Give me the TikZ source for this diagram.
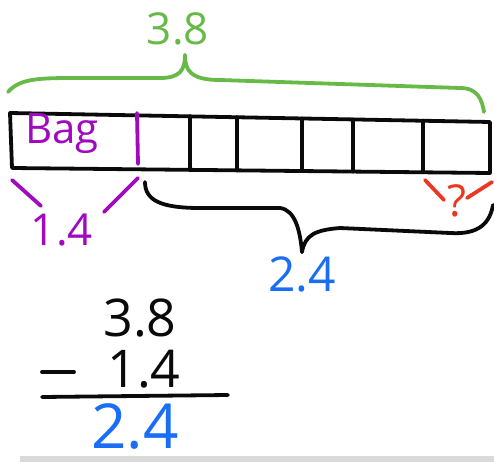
\documentclass[tikz,border=0pt]{standalone}
\usepackage{fontspec}
\setmainfont{Open Sans}
\usetikzlibrary{calc}
\definecolor{grass}{RGB}{104,186,72}
\definecolor{plum}{RGB}{160,10,190}
\definecolor{sky}{RGB}{25,110,245}
\definecolor{brick}{RGB}{235,55,35}
\definecolor{ink}{RGB}{10,10,10}
\tikzset{
  pen/.style={draw=#1,line width=3.8pt,line cap=round,line join=round},
  pen/.default=ink,
  hand/.style 2 args={text=#1,inner sep=0pt,font=\fontsize{#2}{#2}\selectfont},
}

\begin{document}
\begin{tikzpicture}[x=1pt,y=-1pt]
  \useasboundingbox (0,0) rectangle (494,462);
  % tape
  \coordinate (tl) at (10,113);
  \coordinate (tr) at (490,122);
  \coordinate (br) at (490,173);
  \coordinate (bl) at (12,168);
  \draw[pen] (tl) -- (tr) -- (br) -- (bl) -- cycle;
  \foreach \x in {190,237,302,353,423}
    \draw[pen] (\x,{113+9*(\x-12)/478}) -- (\x,{168+5*(\x-12)/478});
  \draw[pen=plum] (137,113) -- (138,164);
  \node[hand={plum}{42pt}] (bag) at (62,134) {Bag};
  % whole: 3.8
  \coordinate (gl) at (8,92);
  \coordinate (gtip) at (185,55);
  \coordinate (gr) at (484,112);
  \draw[pen=grass] (gl) .. controls (20,78) and (40,78) .. (80,78) -- (160,78)
    .. controls (180,78) and (185,70) .. (gtip);
  \draw[pen=grass] (gtip) .. controls (185,70) and (190,80) .. (220,80) -- (460,88)
    .. controls (478,88) and (482,100) .. (gr);
  \node[hand={grass}{44pt}] (whole) at (178,29) {3.8};
  % part: 1.4
  \coordinate (pl) at (12,180);
  \coordinate (pr) at (138,178);
  \draw[pen=plum] (pl) -- (41,206);
  \draw[pen=plum] (pr) -- (104,212);
  \node[hand={plum}{44pt}] (part) at (62,230) {1.4};
  % rest: 2.4
  \coordinate (kl) at (145,182);
  \coordinate (ktip) at (302,252);
  \coordinate (kr) at (493,205);
  \draw[pen] (kl) .. controls (145,200) and (160,208) .. (200,208) -- (280,208)
    .. controls (295,210) and (300,230) .. (ktip);
  \draw[pen] (ktip) .. controls (305,235) and (315,230) .. (340,228) -- (450,233)
    .. controls (480,235) and (490,222) .. (kr);
  \node[hand={sky}{48pt}] (rest) at (302,274) {2.4};
  % unknown
  \draw[pen=brick] (425,180) -- (444,200);
  \draw[pen=brick] (492,182) -- (467,198);
  \node[hand={brick}{44pt}] (what) at (457,201) {?};
  % column subtraction
  \node[hand={ink}{52pt}] (top) at (140,318) {3.8};
  \node[hand={ink}{52pt}] (sub) at (144,369) {1.4};
  \draw[pen] (42,372) -- (74,372);
  \coordinate (ul) at (42,397);
  \coordinate (ur) at (228,395);
  \draw[pen] (ul) -- (ur);
  \node[hand={sky}{62pt}] (diff) at (135,426) {2.4};
  \fill[black!15] (20,456) rectangle (494,462);
\end{tikzpicture}
\end{document}
